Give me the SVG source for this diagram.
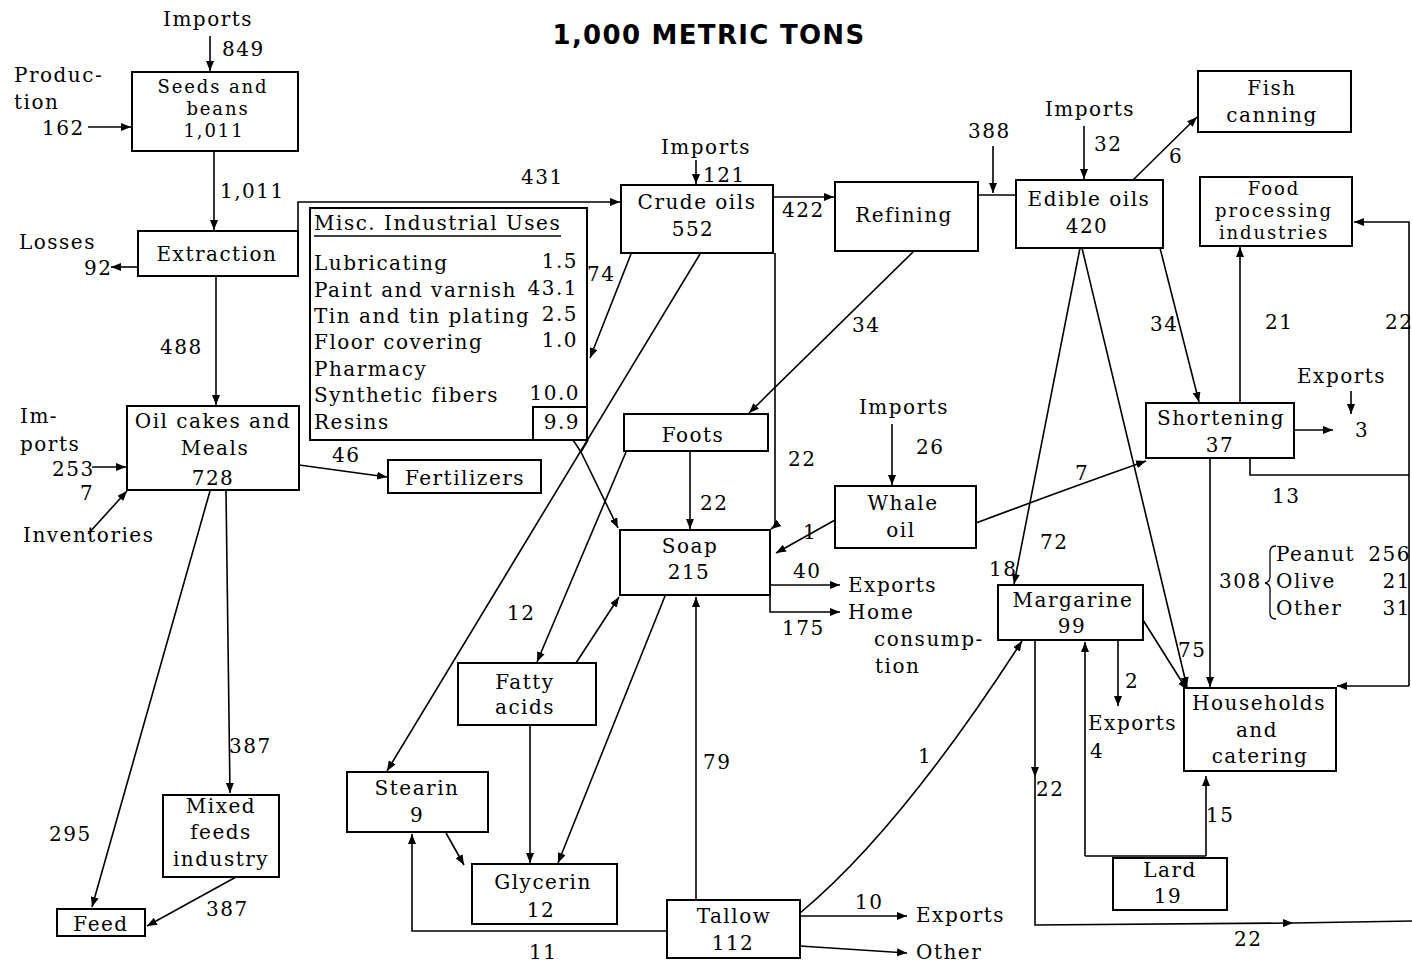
<svg xmlns="http://www.w3.org/2000/svg" width="1412" height="966" viewBox="0 0 1412 966">
<style>
.box{fill:#fff;stroke:#000;stroke-width:2}
.c{fill:none;stroke:#000;stroke-width:1.6}
text{font-family:"DejaVu Serif","Liberation Serif",serif;font-size:20px;letter-spacing:1.5px;fill:#000}
.m{text-anchor:middle}
.e{text-anchor:end}
.s{font-size:18px;letter-spacing:1.9px}
.title{font-family:"DejaVu Sans","Liberation Sans",sans-serif;font-size:26px;font-weight:bold;letter-spacing:1.3px}
</style>
<defs>
<marker id="a" viewBox="0 0 10 8" refX="10" refY="4" markerWidth="10" markerHeight="8" markerUnits="userSpaceOnUse" orient="auto"><path d="M0,0 L10,4 L0,8 Z" fill="#000"/></marker>
</defs>
<rect width="1412" height="966" fill="#fff"/>
<text class="title m" x="709" y="44">1,000 METRIC TONS</text>

<g id="connectors">
<path class="c" d="M210,36 V71" marker-end="url(#a)"/>
<path class="c" d="M88,127 H131" marker-end="url(#a)"/>
<path class="c" d="M214,151 V230" marker-end="url(#a)"/>
<path class="c" d="M138,267 H111" marker-end="url(#a)"/>
<path class="c" d="M216,276 V405" marker-end="url(#a)"/>
<path class="c" d="M298,231 V202 H620" marker-end="url(#a)"/>
<path class="c" d="M92,467 H126" marker-end="url(#a)"/>
<path class="c" d="M88,534 L127,491" marker-end="url(#a)"/>
<path class="c" d="M299,465 L387,477" marker-end="url(#a)"/>
<path class="c" d="M226,491 L230,793" marker-end="url(#a)"/>
<path class="c" d="M210,491 L92,907" marker-end="url(#a)"/>
<path class="c" d="M236,877 L147,926" marker-end="url(#a)"/>
<path class="c" d="M696,160 V184" marker-end="url(#a)"/>
<path class="c" d="M773,197 H834" marker-end="url(#a)"/>
<path class="c" d="M978,195 H1016"/>
<path class="c" d="M993,146 V193" marker-end="url(#a)"/>
<path class="c" d="M1084,126 V179" marker-end="url(#a)"/>
<path class="c" d="M1133,180 L1197,117" marker-end="url(#a)"/>
<path class="c" d="M631,254 L590,358" marker-end="url(#a)"/>
<path class="c" d="M700,254 L387,771" marker-end="url(#a)"/>
<path class="c" d="M775,253 V526 L771,529" marker-end="url(#a)"/>
<path class="c" d="M913,252 L749,413" marker-end="url(#a)"/>
<path class="c" d="M573,440 L581,452 L588,440"/>
<path class="c" d="M581,452 L618,528" marker-end="url(#a)"/>
<path class="c" d="M690,451 V529" marker-end="url(#a)"/>
<path class="c" d="M626,452 L537,662" marker-end="url(#a)"/>
<path class="c" d="M576,663 L619,597" marker-end="url(#a)"/>
<path class="c" d="M665,596 L558,863" marker-end="url(#a)"/>
<path class="c" d="M530,725 V863" marker-end="url(#a)"/>
<path class="c" d="M446,833 L464,865" marker-end="url(#a)"/>
<path class="c" d="M667,931 H412 V834" marker-end="url(#a)"/>
<path class="c" d="M696,900 V597" marker-end="url(#a)"/>
<path class="c" d="M800,913 Q900,830 1022,641" marker-end="url(#a)"/>
<path class="c" d="M800,916 H907" marker-end="url(#a)"/>
<path class="c" d="M800,946 L907,953" marker-end="url(#a)"/>
<path class="c" d="M892,424 V485" marker-end="url(#a)"/>
<path class="c" d="M835,520 L776,553" marker-end="url(#a)"/>
<path class="c" d="M976,523 Q1050,495 1146,461" marker-end="url(#a)"/>
<path class="c" d="M770,585 H840" marker-end="url(#a)"/>
<path class="c" d="M770,585 V612 H840" marker-end="url(#a)"/>
<path class="c" d="M1080,248 L1014,584" marker-end="url(#a)"/>
<path class="c" d="M1082,248 L1187,687" marker-end="url(#a)"/>
<path class="c" d="M1160,248 L1199,402" marker-end="url(#a)"/>
<path class="c" d="M1240,403 V247" marker-end="url(#a)"/>
<path class="c" d="M1294,430 H1333" marker-end="url(#a)"/>
<path class="c" d="M1351,391 V414" marker-end="url(#a)"/>
<path class="c" d="M1210,458 V687" marker-end="url(#a)"/>
<path class="c" d="M1250,458 V475 H1409"/>
<path class="c" d="M1409,686 V222 H1354" marker-end="url(#a)"/>
<path class="c" d="M1409,686 H1337" marker-end="url(#a)"/>
<path class="c" d="M1143,620 L1187,690" marker-end="url(#a)"/>
<path class="c" d="M1118,641 V706" marker-end="url(#a)"/>
<path class="c" d="M1085,856 H1206"/>
<path class="c" d="M1085,856 V642" marker-end="url(#a)"/>
<path class="c" d="M1206,856 V776" marker-end="url(#a)"/>
<path class="c" d="M1035,641 V777" marker-end="url(#a)"/>
<path class="c" d="M1035,777 V925 L1293,923" marker-end="url(#a)"/>
<path class="c" d="M1293,923 L1412,921"/>
<path class="c" d="M1276,546 Q1270,546 1270,552 V577 Q1270,582 1265,583 Q1270,584 1270,589 V613 Q1270,619 1276,619" style="stroke-width:1.3"/>
</g>

<g id="labels">
<text x="163" y="26">Imports</text>
<text x="222" y="56">849</text>
<text x="14" y="82">Produc-</text>
<text x="14" y="109">tion</text>
<text x="42" y="135">162</text>
<text x="220" y="198">1,011</text>
<text x="19" y="249">Losses</text>
<text x="84" y="275">92</text>
<text x="160" y="354">488</text>
<text x="20" y="423">Im-</text>
<text x="20" y="451">ports</text>
<text x="52" y="476">253</text>
<text x="80" y="500">7</text>
<text x="23" y="542">Inventories</text>
<text x="332" y="462">46</text>
<text x="229" y="753">387</text>
<text x="49" y="841">295</text>
<text x="206" y="916">387</text>
<text x="521" y="184">431</text>
<text class="m" x="706" y="154">Imports</text>
<text x="703" y="182">121</text>
<text x="782" y="217">422</text>
<text x="968" y="138">388</text>
<text class="m" x="1090" y="116">Imports</text>
<text x="1094" y="151">32</text>
<text x="1169" y="163">6</text>
<text x="587" y="281">74</text>
<text x="852" y="332">34</text>
<text x="788" y="466">22</text>
<text class="m" x="904" y="414">Imports</text>
<text x="916" y="454">26</text>
<text x="700" y="510">22</text>
<text x="803" y="539">1</text>
<text x="793" y="578">40</text>
<text x="848" y="592">Exports</text>
<text x="848" y="619">Home</text>
<text x="874" y="646">consump-</text>
<text x="875" y="673">tion</text>
<text x="782" y="635">175</text>
<text x="507" y="620">12</text>
<text x="703" y="769">79</text>
<text x="918" y="763">1</text>
<text x="855" y="909">10</text>
<text x="916" y="922">Exports</text>
<text x="916" y="959">Other</text>
<text x="529" y="959">11</text>
<text x="1075" y="480">7</text>
<text x="1040" y="549">72</text>
<text x="989" y="576">18</text>
<text x="1150" y="331">34</text>
<text x="1265" y="329">21</text>
<text x="1385" y="329">22</text>
<text x="1297" y="383">Exports</text>
<text x="1355" y="437">3</text>
<text x="1272" y="503">13</text>
<text x="1219" y="588">308</text>
<text x="1276" y="561">Peanut</text>
<text class="e" x="1411" y="561">256</text>
<text x="1276" y="588">Olive</text>
<text class="e" x="1411" y="588">21</text>
<text x="1276" y="615">Other</text>
<text class="e" x="1411" y="615">31</text>
<text x="1178" y="657">75</text>
<text x="1125" y="688">2</text>
<text x="1088" y="730">Exports</text>
<text x="1090" y="758">4</text>
<text x="1036" y="796">22</text>
<text x="1206" y="822">15</text>
<text x="1234" y="946">22</text>
</g>

<g id="seeds"><rect class="box" x="132" y="72" width="166" height="79"/>
<text class="m s" x="213" y="93">Seeds and</text><text class="m s" x="218" y="115">beans</text><text class="m s" x="214" y="137">1,011</text></g>
<g id="extraction"><rect class="box" x="138" y="231" width="160" height="45"/>
<text class="m" x="217" y="261">Extraction</text></g>
<g id="oilcakes"><rect class="box" x="127" y="406" width="172" height="84"/>
<text class="m" x="213" y="428">Oil cakes and</text><text class="m" x="215" y="455">Meals</text><text class="m" x="213" y="485">728</text></g>
<g id="fertilizers"><rect class="box" x="388" y="460" width="153" height="33"/>
<text class="m" x="465" y="485">Fertilizers</text></g>
<g id="mixed"><rect class="box" x="163" y="795" width="116" height="82"/>
<text class="m" x="221" y="813">Mixed</text><text class="m" x="221" y="839">feeds</text><text class="m" x="221" y="866">industry</text></g>
<g id="feed"><rect class="box" x="57" y="909" width="88" height="27"/>
<text class="m" x="101" y="931">Feed</text></g>
<g id="misc"><rect class="box" x="310" y="208" width="277" height="232"/>
<rect class="box" x="533" y="407" width="54" height="33"/>
<text x="314" y="230">Misc. Industrial Uses</text>
<path d="M314,236 H561" stroke="#000" stroke-width="1.3"/>
<text x="314" y="270">Lubricating</text><text class="e" x="578" y="268">1.5</text>
<text x="314" y="297">Paint and varnish</text><text class="e" x="578" y="295">43.1</text>
<text x="314" y="323">Tin and tin plating</text><text class="e" x="578" y="321">2.5</text>
<text x="314" y="349">Floor covering</text><text class="e" x="578" y="347">1.0</text>
<text x="314" y="376">Pharmacy</text>
<text x="314" y="402">Synthetic fibers</text><text class="e" x="580" y="400">10.0</text>
<text x="314" y="429">Resins</text><text class="e" x="580" y="429">9.9</text></g>
<g id="crude"><rect class="box" x="621" y="185" width="152" height="68"/>
<text class="m" x="697" y="209">Crude oils</text><text class="m" x="693" y="236">552</text></g>
<g id="refining"><rect class="box" x="835" y="182" width="143" height="69"/>
<text class="m" x="904" y="222">Refining</text></g>
<g id="edible"><rect class="box" x="1016" y="180" width="147" height="68"/>
<text class="m" x="1089" y="206">Edible oils</text><text class="m" x="1087" y="233">420</text></g>
<g id="fish"><rect class="box" x="1198" y="71" width="153" height="61"/>
<text class="m" x="1272" y="95">Fish</text><text class="m" x="1272" y="122">canning</text></g>
<g id="food"><rect class="box" x="1200" y="177" width="152" height="69"/>
<text class="m s" x="1274" y="195">Food</text><text class="m s" x="1274" y="217">processing</text><text class="m s" x="1274" y="239">industries</text></g>
<g id="shortening"><rect class="box" x="1146" y="403" width="148" height="55"/>
<text class="m" x="1221" y="425">Shortening</text><text class="m" x="1220" y="452">37</text></g>
<g id="foots"><rect class="box" x="624" y="414" width="144" height="37"/>
<text class="m" x="693" y="442">Foots</text></g>
<g id="soap"><rect class="box" x="620" y="530" width="150" height="65"/>
<text class="m" x="690" y="553">Soap</text><text class="m" x="689" y="579">215</text></g>
<g id="whale"><rect class="box" x="835" y="486" width="141" height="62"/>
<text class="m" x="903" y="510">Whale</text><text class="m" x="901" y="537">oil</text></g>
<g id="margarine"><rect class="box" x="998" y="585" width="145" height="55"/>
<text class="m" x="1073" y="607">Margarine</text><text class="m" x="1072" y="633">99</text></g>
<g id="households"><rect class="box" x="1184" y="688" width="152" height="83"/>
<text class="m" x="1259" y="710">Households</text><text class="m" x="1257" y="737">and</text><text class="m" x="1260" y="763">catering</text></g>
<g id="lard"><rect class="box" x="1113" y="858" width="114" height="52"/>
<text class="m" x="1170" y="877">Lard</text><text class="m" x="1168" y="903">19</text></g>
<g id="fatty"><rect class="box" x="458" y="663" width="138" height="62"/>
<text class="m" x="525" y="689">Fatty</text><text class="m" x="525" y="714">acids</text></g>
<g id="stearin"><rect class="box" x="347" y="772" width="141" height="60"/>
<text class="m" x="417" y="795">Stearin</text><text class="m" x="417" y="822">9</text></g>
<g id="glycerin"><rect class="box" x="472" y="864" width="145" height="60"/>
<text class="m" x="543" y="889">Glycerin</text><text class="m" x="541" y="917">12</text></g>
<g id="tallow"><rect class="box" x="667" y="900" width="133" height="58"/>
<text class="m" x="734" y="923">Tallow</text><text class="m" x="733" y="950">112</text></g>
</svg>
